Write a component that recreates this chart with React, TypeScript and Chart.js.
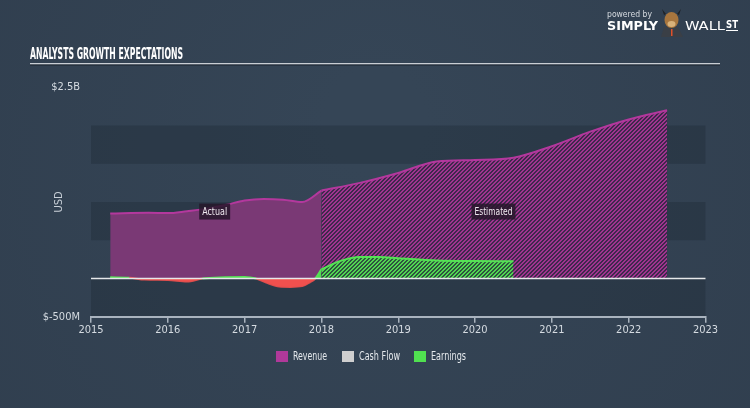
import React, { useEffect, useRef } from 'react';
import { Chart, registerables } from 'chart.js';

Chart.register(...registerables);

// ---------- data (values in billions USD) ----------
const revenueActualYears = [2015.25, 2015.75, 2016.0, 2016.25, 2016.5, 2016.75, 2017.0, 2017.25, 2017.5, 2017.75, 2018.0];
const revenueActual = [0.85, 0.86, 0.855, 0.88, 0.91, 0.96, 1.02, 1.04, 1.03, 1.0, 1.15];

const revenueEstYears = [2018.0, 2018.5, 2019.0, 2019.5, 2020.0, 2020.5, 2021.0, 2021.5, 2022.0, 2022.5];
const revenueEst = [1.15, 1.25, 1.38, 1.53, 1.55, 1.58, 1.73, 1.92, 2.08, 2.2];

const earningsActualYears = [2015.25, 2015.5, 2015.7, 2016.0, 2016.25, 2016.45, 2016.75, 2017.0, 2017.15, 2017.3, 2017.45, 2017.6, 2017.75, 2017.85, 2017.92, 2018.0];
const earningsActual = [0.015, 0.01, -0.015, -0.02, -0.04, 0.0, 0.015, 0.02, 0.0, -0.06, -0.105, -0.11, -0.1, -0.05, 0.0, 0.12];

const earningsEstYears = [2018.0, 2018.25, 2018.5, 2018.75, 2019.0, 2019.5, 2020.0, 2020.5];
const earningsEst = [0.12, 0.23, 0.28, 0.28, 0.265, 0.235, 0.228, 0.226];

const cashFlow: number[] = [];

const xTickYears = [2015, 2016, 2017, 2018, 2019, 2020, 2021, 2022, 2023];
const yTickLabels: Record<string, string> = { '2.5': '$2.5B', '-0.5': '$-500M' };

const legendLabels = ['Revenue', 'Cash Flow', 'Earnings'];
const legendColors = ['#b0399a', '#cfcfcf', '#50e050'];

const noteLabels = ['Actual', 'Estimated'];
const noteYears = [2016.61, 2020.24];
const noteValues = [0.875, 0.875];

const TITLE = 'ANALYSTS GROWTH EXPECTATIONS';
const FONT = '"Liberation Sans Narrow", "DejaVu Sans Condensed", Roboto, sans-serif';

function toPoints(xs: number[], ys: number[]) {
  return xs.map((x, i) => ({ x, y: ys[i] }));
}

function fitText(ctx: CanvasRenderingContext2D, text: string, x: number, y: number, width: number) {
  const w = ctx.measureText(text).width;
  ctx.save();
  ctx.translate(x, y);
  ctx.scale(width / w, 1);
  ctx.fillText(text, 0, 0);
  ctx.restore();
}

function makePattern(fg: [number, number, number], bg: [number, number, number]) {
  const c = document.createElement('canvas');
  c.width = 8;
  c.height = 8;
  const cx = c.getContext('2d')!;
  const img = cx.createImageData(8, 8);
  for (let y = 0; y < 8; y++) {
    for (let x = 0; x < 8; x++) {
      const on = (x + y) % 4 < 2;
      const col = on ? fg : bg;
      const i = (y * 8 + x) * 4;
      img.data[i] = col[0];
      img.data[i + 1] = col[1];
      img.data[i + 2] = col[2];
      img.data[i + 3] = 255;
    }
  }
  cx.putImageData(img, 0, 0);
  return cx.createPattern(c, 'repeat')!;
}

const decor = {
  id: 'decor',
  beforeDraw(chart: any) {
    const { ctx, chartArea, scales } = chart;
    ctx.save();
    const g = ctx.createRadialGradient(375, 120, 50, 375, 200, 520);
    g.addColorStop(0, '#354556');
    g.addColorStop(1, '#303e4e');
    ctx.fillStyle = g;
    ctx.fillRect(0, 0, chart.width, chart.height);
    // bands
    const y = scales.y;
    ctx.fillStyle = 'rgba(30,40,52,0.35)';
    const bands = [[-0.5, 0], [0.5, 1], [1.5, 2]];
    for (const [a, b] of bands) {
      const y1 = y.getPixelForValue(b);
      const y2 = y.getPixelForValue(a);
      ctx.fillRect(chartArea.left, y1, chartArea.right - chartArea.left, y2 - y1);
    }
    ctx.restore();
  },
  afterDatasetsDraw(chart: any) {
    const { ctx, chartArea, scales } = chart;
    ctx.save();
    // zero line
    const y0 = scales.y.getPixelForValue(0);
    ctx.strokeStyle = '#e6e8ea';
    ctx.lineWidth = 1.5;
    ctx.beginPath();
    ctx.moveTo(chartArea.left, y0);
    ctx.lineTo(chartArea.right, y0);
    ctx.stroke();
    // notes
    ctx.font = `11px ${FONT}`;
    ctx.textBaseline = 'middle';
    ctx.textAlign = 'left';
    const noteWidths = [25, 38];
    noteLabels.forEach((t, i) => {
      const px = scales.x.getPixelForValue(noteYears[i]);
      const py = scales.y.getPixelForValue(noteValues[i]);
      const tw = noteWidths[i];
      const w = tw + 6;
      ctx.fillStyle = 'rgba(38,24,42,0.85)';
      ctx.fillRect(px - w / 2, py - 8, w, 16);
      ctx.fillStyle = '#f0eaf0';
      fitText(ctx, t, px - tw / 2, py + 0.5, tw);
    });
    ctx.restore();
  },
  afterDraw(chart: any) {
    const { ctx } = chart;
    ctx.save();
    // title
    ctx.fillStyle = '#ffffff';
    ctx.font = `bold 16px ${FONT}`;
    ctx.textBaseline = 'alphabetic';
    ctx.textAlign = 'left';
    fitText(ctx, TITLE, 30, 58.5, 153);
    // rule
    ctx.fillStyle = '#c9ced4';
    ctx.fillRect(30, 63, 690, 1.5);
    ctx.fillStyle = 'rgba(20,28,38,0.8)';
    ctx.fillRect(30, 64.5, 690, 1);

    // logo
    ctx.fillStyle = '#d6dbe0';
    ctx.font = `9px ${FONT}`;
    fitText(ctx, 'powered by', 607, 17, 45);
    ctx.fillStyle = '#ffffff';
    ctx.font = `bold 13px ${FONT}`;
    fitText(ctx, 'SIMPLY', 607, 30, 51);
    ctx.font = `13px ${FONT}`;
    fitText(ctx, 'WALL', 685, 30, 40);
    ctx.font = `bold 11px ${FONT}`;
    fitText(ctx, 'ST', 726, 28, 12);
    ctx.fillRect(726, 30, 12, 1);
    // mascot
    ctx.fillStyle = '#3a3f46';
    ctx.beginPath();
    ctx.moveTo(661, 37);
    ctx.lineTo(664, 27);
    ctx.lineTo(678, 27);
    ctx.lineTo(683, 37);
    ctx.closePath();
    ctx.fill();
    ctx.fillStyle = '#1f2226';
    ctx.beginPath();
    ctx.moveTo(662, 9);
    ctx.lineTo(666, 14);
    ctx.lineTo(664, 15);
    ctx.closePath();
    ctx.fill();
    ctx.beginPath();
    ctx.moveTo(681, 9);
    ctx.lineTo(677, 14);
    ctx.lineTo(679, 15);
    ctx.closePath();
    ctx.fill();
    ctx.fillStyle = '#a8763e';
    ctx.beginPath();
    ctx.ellipse(671.5, 20, 7, 8, 0, 0, Math.PI * 2);
    ctx.fill();
    ctx.fillStyle = '#d9b27a';
    ctx.beginPath();
    ctx.ellipse(671.5, 24, 4, 3, 0, 0, Math.PI * 2);
    ctx.fill();
    ctx.fillStyle = '#e0502a';
    ctx.fillRect(671, 29, 1.5, 7);

    // legend
    ctx.font = `12.5px ${FONT}`;
    ctx.textBaseline = 'middle';
    const lx = [276, 342, 414];
    const lw = [34, 41, 35];
    legendLabels.forEach((t, i) => {
      ctx.fillStyle = legendColors[i];
      ctx.fillRect(lx[i], 351, 12, 11);
      ctx.fillStyle = '#e4e8ec';
      fitText(ctx, t, lx[i] + 17, 357, lw[i]);
    });
    ctx.restore();
  },
};

export default function App() {
  const ref = useRef<HTMLCanvasElement | null>(null);

  useEffect(() => {
    document.body.style.margin = '0';
    const canvas = ref.current!;
    const revPattern = makePattern([160, 52, 142], [62, 40, 76]);
    const earnPattern = makePattern([82, 214, 82], [46, 84, 62]);
    const lineOpts = {
      pointRadius: 0,
      cubicInterpolationMode: 'monotone' as const,
      borderWidth: 2,
    };
    const chart = new Chart(canvas, {
      type: 'line',
      data: {
        datasets: [
          {
            label: 'Earnings',
            data: toPoints(earningsActualYears, earningsActual),
            ...lineOpts,
            borderColor: '#55e255',
            segment: {
              borderColor: (c: any) => (c.p0.parsed.y < 0 || c.p1.parsed.y < 0 ? 'rgba(240,80,78,0.9)' : '#55e255'),
            },
            fill: { target: 'origin', above: '#50dc50', below: '#f0504e' },
            order: 0,
          },
          {
            label: 'Earnings est',
            data: toPoints(earningsEstYears, earningsEst),
            ...lineOpts,
            borderColor: '#55e255',
            backgroundColor: earnPattern,
            fill: 'origin',
            order: 1,
          },
          {
            label: 'Cash Flow',
            data: cashFlow,
            borderColor: '#cfcfcf',
            order: 2,
          },
          {
            label: 'Revenue',
            data: toPoints(revenueActualYears, revenueActual),
            ...lineOpts,
            borderColor: '#b3389d',
            backgroundColor: 'rgb(122,57,117)',
            fill: 'origin',
            order: 3,
          },
          {
            label: 'Revenue est',
            data: toPoints(revenueEstYears, revenueEst),
            ...lineOpts,
            borderColor: '#b3389d',
            backgroundColor: revPattern,
            fill: 'origin',
            order: 4,
          },
        ],
      },
      options: {
        animation: false,
        responsive: false,
        events: [],
        layout: { padding: { left: 0, right: 44.5, top: 87.3, bottom: 0 } },
        plugins: { legend: { display: false }, tooltip: { enabled: false }, title: { display: false } },
        scales: {
          x: {
            type: 'linear',
            min: xTickYears[0],
            max: xTickYears[xTickYears.length - 1],
            afterFit: (s: any) => {
              s.height = 91.3;
            },
            afterBuildTicks: (s: any) => {
              s.ticks = xTickYears.map((v) => ({ value: v }));
            },
            ticks: {
              color: '#d5dbe1',
              font: { family: FONT, size: 11 },
              padding: 1,
              maxRotation: 0,
              callback: (v: any) => String(v),
            },
            grid: { drawOnChartArea: false, drawTicks: true, tickLength: 6, color: '#a9b3be', lineWidth: 1.5 },
            border: { display: true, color: '#a9b3be', width: 2 },
          },
          y: {
            type: 'linear',
            min: -0.5,
            max: 2.5,
            afterFit: (s: any) => {
              s.width = 91;
            },
            afterBuildTicks: (s: any) => {
              s.ticks = [-0.5, 2.5].map((v) => ({ value: v }));
            },
            ticks: {
              color: '#d5dbe1',
              font: { family: FONT, size: 11 },
              padding: 11,
              callback: (v: any) => yTickLabels[String(v)] ?? '',
            },
            grid: { display: false, drawTicks: false },
            border: { display: false },
            title: {
              display: true,
              text: 'USD',
              color: '#c9d0d8',
              font: { family: FONT, size: 11 },
              padding: { top: 53, bottom: 0 },
            },
          },
        },
      },
      plugins: [decor],
    });
    return () => chart.destroy();
  }, []);

  return (
    <div style={{ position: 'fixed', left: 0, top: 0, width: 750, height: 408 }}>
      <canvas ref={ref} width={750} height={408} style={{ width: 750, height: 408, display: 'block' }} />
    </div>
  );
}
